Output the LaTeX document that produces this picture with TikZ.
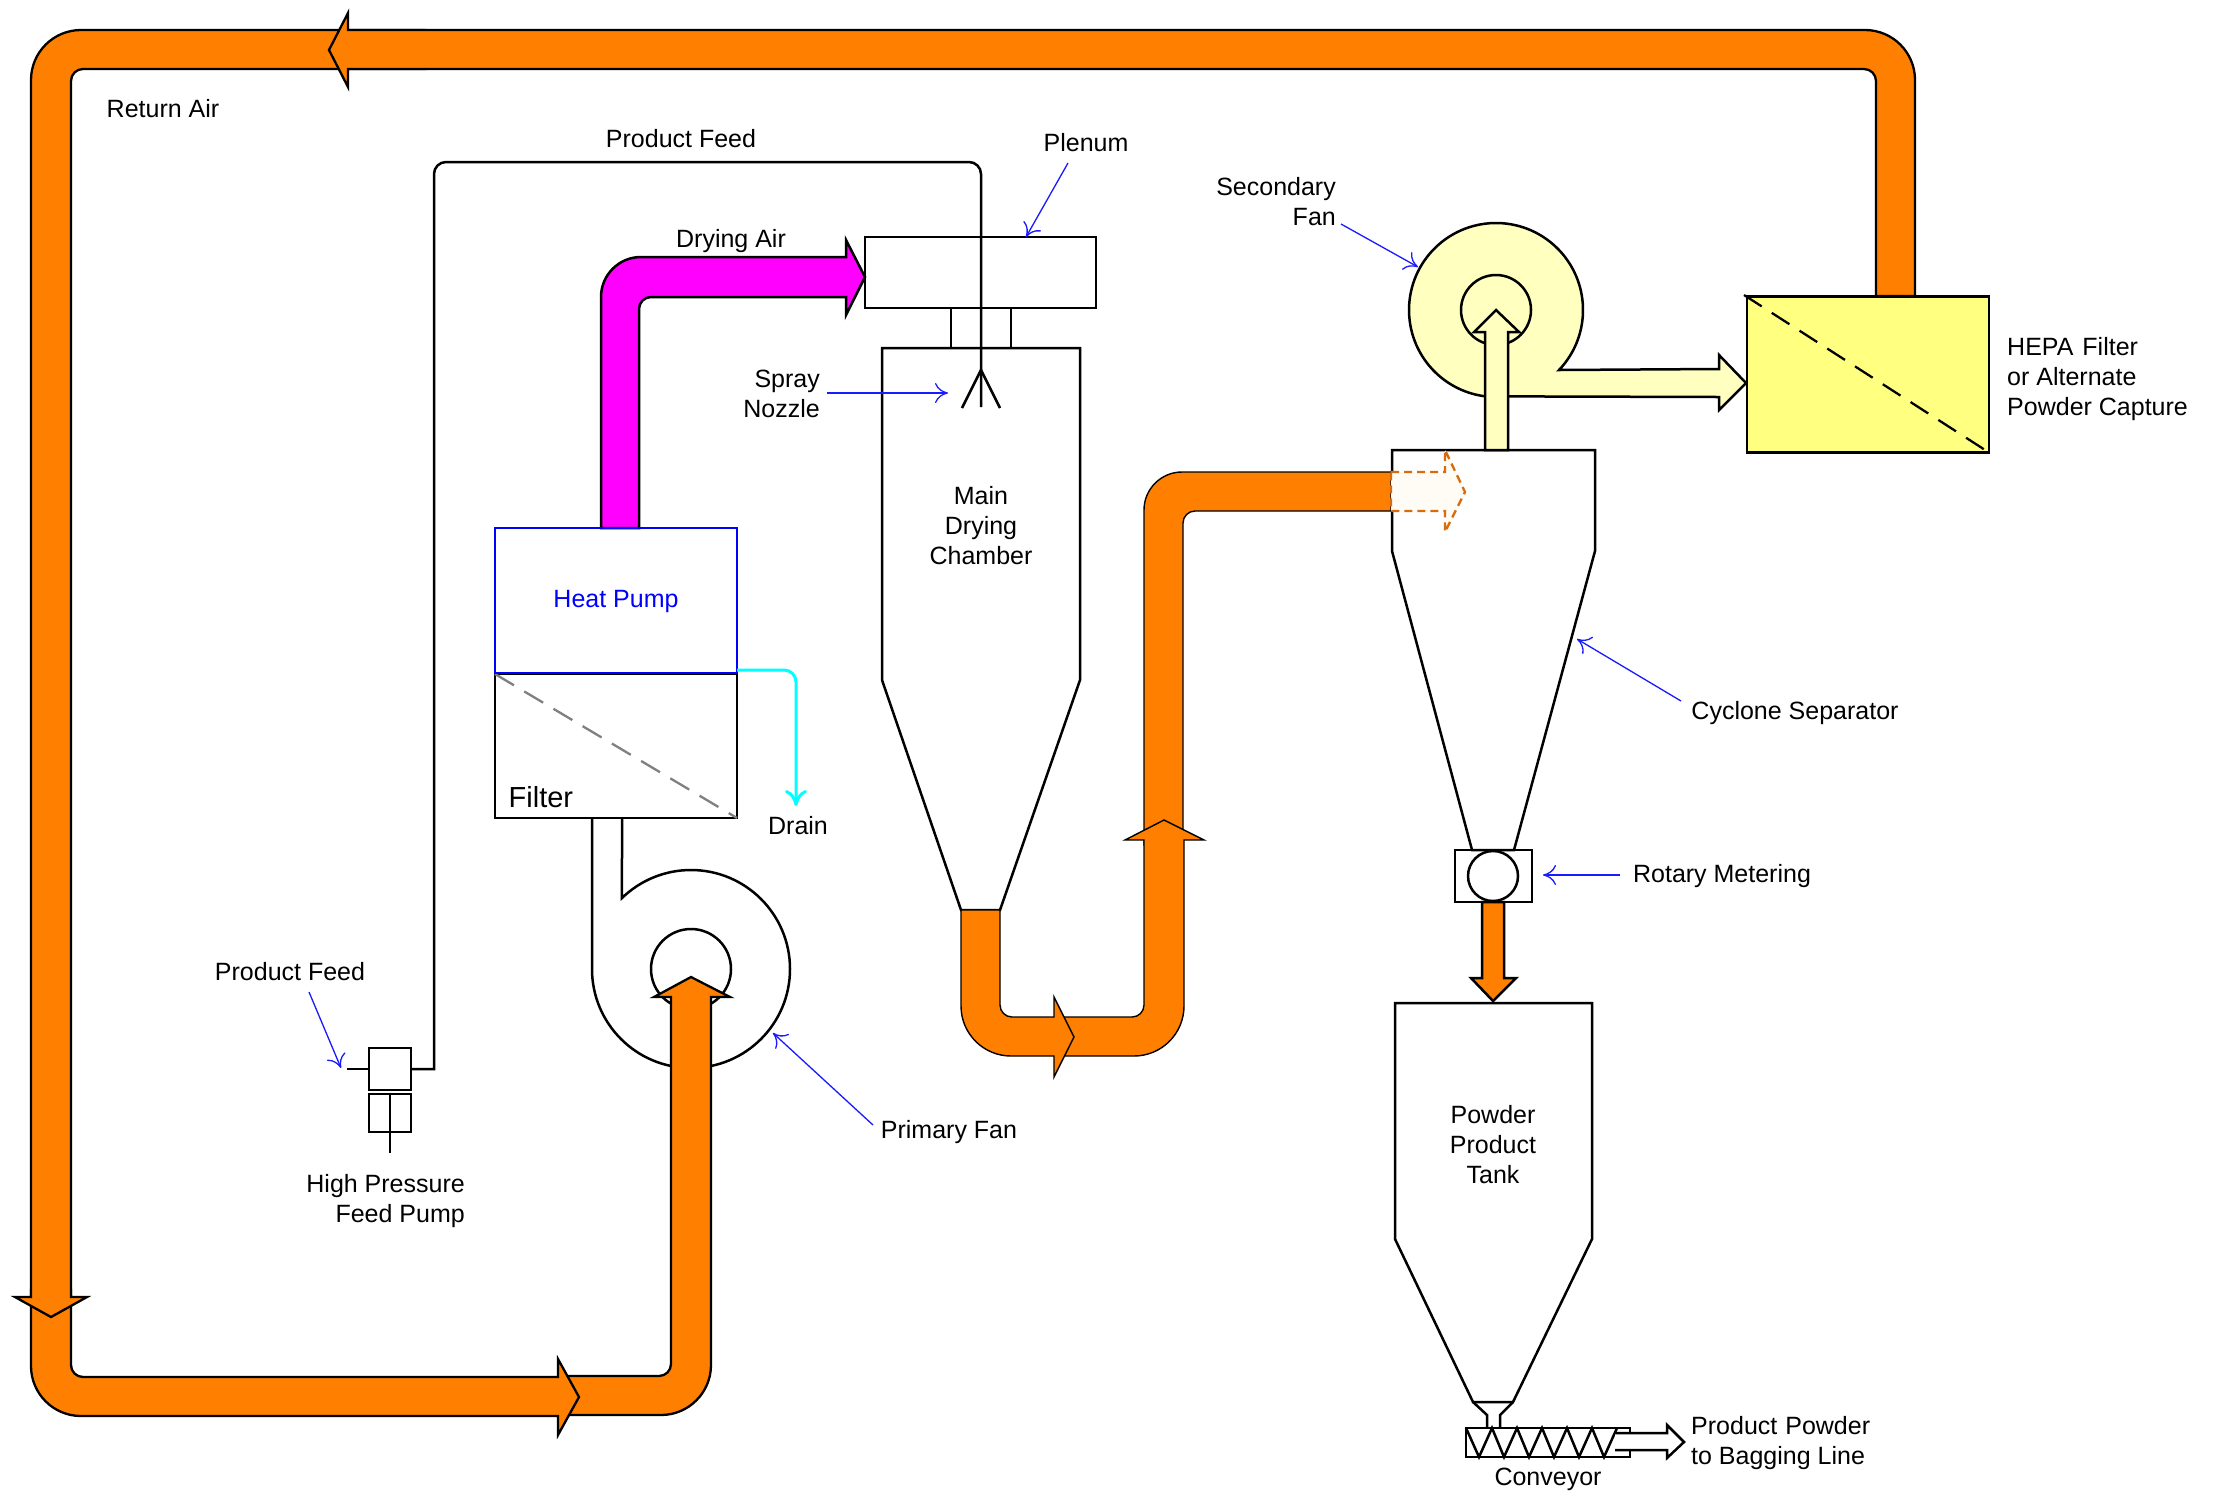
\documentclass[tikz,border=0pt]{standalone}
\usepackage{fontspec}
\setmainfont{Liberation Sans}
\usetikzlibrary{arrows.meta}
\definecolor{flow}{HTML}{FF8000}
\definecolor{hepa}{HTML}{FFFF80}
\definecolor{fanpale}{HTML}{FFFFC0}
\definecolor{dashor}{HTML}{D96B0C}
\definecolor{ghost}{HTML}{FFFBF5}
\definecolor{dryair}{HTML}{FF00FF}
\definecolor{drainc}{HTML}{00FFFF}
\definecolor{leaderc}{HTML}{1A1AFF}
\definecolor{hpblue}{HTML}{0000FF}
\tikzset{
  lbl/.style={inner sep=0pt,font=\fontsize{25}{30}\selectfont,align=center,yshift=-1pt},
  lblr/.style={inner sep=0pt,font=\fontsize{25}{30}\selectfont,align=right,yshift=-1pt},
  lbll/.style={inner sep=0pt,font=\fontsize{25}{30}\selectfont,align=left,yshift=-1pt},
  ln/.style={line width=2.5pt,line join=miter},
  boxn/.style={draw,line width=2.5pt,inner sep=0pt,outer sep=0pt,rectangle},
  ribbon/.style={draw,fill=flow,line width=2.3pt,line join=miter},
  thinribbon/.style={draw,fill=flow,line width=1.4pt,line join=miter},
  thick arrow/.style={draw,line width=2.5pt,line join=miter},
  leader/.style={draw=leaderc,line width=1.3pt,-{Computer Modern Rightarrow[length=13pt,width=20pt]}},
}
\begin{document}
\begin{tikzpicture}[x=1pt,y=-1pt]
\useasboundingbox[fill=white] (0,0) rectangle (2221,1492);

% primary fan
\path[draw,ln] (592,818) -- (592,969) arc[start angle=180,end angle=494.2,radius=99pt] -- (622,818);
\node[circle,draw,line width=2.5pt,minimum size=80pt,inner sep=0pt,outer sep=0pt] (pfaneye) at (691,969) {};

% return loop, last segment first so that each arrowhead lies over what follows it
\draw[ribbon] (565,1376) -- (659,1376) arc[start angle=270,end angle=360,radius=12pt] -- (671,997) -- (654,997) -- (691,977) -- (730,997) -- (711,997) -- (711,1365) arc[start angle=0,end angle=-90,radius=50pt] -- (565,1415) -- cycle;
\draw[ribbon] (31,1290) -- (31,1366) arc[start angle=180,end angle=270,radius=50pt] -- (558,1416) -- (558,1435) -- (579,1397) -- (558,1359) -- (558,1377) -- (83,1377) arc[start angle=270,end angle=180,radius=12pt] -- (71,1290) -- cycle;
\draw[ribbon] (425,30) -- (81,30) arc[start angle=90,end angle=180,radius=50pt] -- (31,1297) -- (15,1297) -- (51,1317) -- (87,1297) -- (71,1297) -- (71,81) arc[start angle=180,end angle=90,radius=12pt] -- (425,69) -- cycle;
\draw[ribbon] (1915,296) -- (1915,80) arc[start angle=0,end angle=90,radius=50pt] -- (348,30) -- (348,13) -- (329,50) -- (348,87) -- (348,69) -- (1864,69) arc[start angle=90,end angle=0,radius=12pt] -- (1876,296) -- cycle;

% drying air
\draw[thick arrow,fill=dryair] (601,528) -- (601,297) arc[start angle=180,end angle=90,radius=40pt] -- (846,257) -- (846,240) -- (865,277) -- (846,315) -- (846,297) -- (651,297) arc[start angle=90,end angle=180,radius=12pt] -- (639,528) -- cycle;

% filter and heat pump
\node[boxn,minimum width=242pt,minimum height=144pt] (filter) at (616,746) {};
\draw[gray,line width=2.3pt,dash pattern=on 22pt off 12pt] (filter.north west) -- (filter.south east);
\node[boxn,draw=hpblue,minimum width=242pt,minimum height=145pt] (hp) at (616,600.5) {};
\node[lbl,text=hpblue] (hplbl) at (hp) {Heat Pump};
\node[anchor=base west,inner sep=0pt,font=\fontsize{29}{30}\selectfont] (filterlbl) at (508.5,807) {Filter};
\coordinate (drainin) at (737,670);
\coordinate (drainout) at (796,806);
\draw[drainc,line width=3pt,-{Computer Modern Rightarrow[length=16pt,width=22pt]}] (drainin) -- (784,670) arc[start angle=90,end angle=0,radius=12pt] -- (drainout);
\node[lbl] (drain) at (798,825) {Drain};

% plenum, neck, main chamber
\node[boxn,minimum width=231pt,minimum height=71pt] (plenum) at (980.5,272.5) {};
\node[boxn,minimum width=60pt,minimum height=40pt] (neck) at (981,328) {};
\draw[ln] (882,348) -- (882,680) -- (961,910) -- (1000,910) -- (1080,680) -- (1080,348) -- cycle;
\coordinate (nozzle) at (981,407);
\coordinate (nozapex) at (981,370);
\draw[ln] (962,408) -- (nozapex) -- (1000,408);

% pump and product feed
\node[boxn,minimum width=42pt,minimum height=42pt] (pumpA) at (390,1069) {};
\node[boxn,minimum width=42pt,minimum height=38pt] (pumpB) at (390,1113) {};
\coordinate (pumpin) at (347,1069);
\coordinate (rodend) at (390,1153);
\draw[ln] (pumpin) -- (pumpA.west);
\draw[ln] (pumpB.north) -- (rodend);
\draw[ln] (pumpA.east) -- (434,1069) -- (434,174) arc[start angle=180,end angle=90,radius=12pt] -- (969,162) arc[start angle=90,end angle=0,radius=12pt] -- (nozzle);

% second orange line
\draw[thinribbon] (1144,845) -- (1144,510) arc[start angle=180,end angle=90,radius=38pt] -- (1391,472) -- (1391,511) -- (1195,511) arc[start angle=90,end angle=180,radius=12pt] -- (1183,845) -- cycle;
\draw[thinribbon] (1060,1017) -- (1132,1017) arc[start angle=270,end angle=360,radius=12pt] -- (1144,840) -- (1125,840) -- (1164,820) -- (1204,840) -- (1184,840) -- (1184,1006) arc[start angle=0,end angle=-90,radius=50pt] -- (1060,1056) -- cycle;
\draw[thinribbon] (961,910) -- (961,1006) arc[start angle=180,end angle=270,radius=50pt] -- (1054,1056) -- (1054,1077) -- (1074,1037) -- (1054,997) -- (1054,1017) -- (1012,1017) arc[start angle=270,end angle=180,radius=12pt] -- (1000,910) -- cycle;

% cyclone
\draw[ln] (1392,450) -- (1392,551) -- (1472,850) -- (1514,850) -- (1595,551) -- (1595,450) -- cycle;
\draw[draw=dashor,fill=ghost,line width=2.3pt,dash pattern=on 8pt off 5pt] (1391,472) -- (1445,472) -- (1445,450) -- (1465,492) -- (1445,532) -- (1445,511) -- (1391,511) -- cycle;

% secondary fan
\draw[thick arrow,fill=fanpale] (1559,370) arc[start angle=-43.6,end angle=262.8,radius=87pt] -- (1719,397) -- (1719,410) -- (1746,383) -- (1719,355) -- (1719,369) -- cycle;
\node[circle,draw,fill=fanpale,line width=2.5pt,minimum size=70pt,inner sep=0pt,outer sep=0pt] (sfaneye) at (1496,310) {};
\draw[thick arrow,fill=fanpale] (1485,450) -- (1485,332) -- (1474,332) -- (1496,310) -- (1519,332) -- (1508,332) -- (1508,450) -- cycle;

% HEPA
\node[boxn,fill=hepa,minimum width=242pt,minimum height=156pt] (hepabox) at (1868,374.5) {};
\coordinate (hepadiag) at (1744,295);
\draw[line width=2.3pt,dash pattern=on 21pt off 12pt] (hepadiag) -- (hepabox.south east);

% rotary metering, tank, conveyor
\draw[thick arrow,fill=flow] (1482,902) -- (1482,978) -- (1471,978) -- (1493,1001) -- (1516,978) -- (1504,978) -- (1504,902) -- cycle;
\node[boxn,minimum width=77pt,minimum height=52pt] (rotary) at (1493.5,876) {};
\node[circle,draw,line width=2.5pt,minimum size=50pt,inner sep=0pt,outer sep=0pt] (rotor) at (1493,876) {};
\draw[ln] (1395,1003) -- (1395,1239) -- (1473,1402) -- (1513,1402) -- (1592,1239) -- (1592,1003) -- cycle;
\draw[ln] (1473,1402) -- (1487,1415) -- (1487,1428);
\draw[ln] (1513,1402) -- (1500,1415) -- (1500,1428);
\node[boxn,minimum width=164pt,minimum height=29pt] (conveyor) at (1548,1442.5) {};
\draw[ln] (1466,1428) -- (1479,1457) -- (1492,1428) -- (1504,1457) -- (1517,1428) -- (1529,1457) -- (1542,1428) -- (1554,1457) -- (1567,1428) -- (1579,1457) -- (1592,1428) -- (1604,1457) -- (1617,1428);
\fill[white] (1615,1433) -- (1667,1433) -- (1667,1425) -- (1684,1442) -- (1667,1458) -- (1667,1450) -- (1615,1450) -- cycle;
\draw[ln] (1615,1433) -- (1667,1433) -- (1667,1425) -- (1684,1442) -- (1667,1458) -- (1667,1450) -- (1615,1450);

% labels
\node[lbl] (l1) at (163,108) {Return Air};
\node[lbl] (l2) at (681,138) {Product Feed};
\node[lbl] (l3) at (1086,142) {Plenum};
\node[lblr,anchor=east] (l4) at (1336,201) {Secondary\\Fan};
\node[lbl] (l5) at (731,240.5) {Drying Air};
\node[lblr,anchor=east] (l6) at (820,393) {Spray\\Nozzle};
\node[lbll,anchor=west] (l7) at (2007,378) {HEPA\hspace{9pt}Filter\\or Alternate\\Powder Capture};
\node[lbl] (l8) at (981,525) {Main\\Drying\\Chamber};
\node[lbl] (l9) at (1795,712) {Cyclone Separator};
\node[lbl] (l10) at (1722,875) {Rotary Metering};
\node[lbl] (l11) at (290,971) {Product Feed};
\node[lblr,anchor=east] (l12) at (465,1200) {High Pressure\\Feed Pump};
\node[lbl] (l13) at (949,1131) {Primary Fan};
\node[lbl] (l14) at (1493,1144) {Powder\\Product\\Tank};
\node[lbll,anchor=west] (l15) at (1691,1442) {Product\hspace{8pt}Powder\\to Bagging Line};
\node[lbl] (l16) at (1548,1478) {Conveyor};

% leaders
\coordinate (pa) at (1068,163); \coordinate (pb) at (1026,237);
\coordinate (sa) at (1341,224); \coordinate (sb) at (1418,267);
\coordinate (na) at (827,393);  \coordinate (nb) at (948,393);
\coordinate (ca) at (1681,701); \coordinate (cb) at (1577,639);
\coordinate (ra) at (1620,875); \coordinate (rb) at (1543,875);
\coordinate (fa) at (309,992);  \coordinate (fb) at (341,1068);
\coordinate (ma) at (873,1125); \coordinate (mb) at (773,1033);
\draw[leader] (pa) -- (pb);
\draw[leader] (sa) -- (sb);
\draw[leader] (na) -- (nb);
\draw[leader] (ca) -- (cb);
\draw[leader] (ra) -- (rb);
\draw[leader] (fa) -- (fb);
\draw[leader] (ma) -- (mb);
\end{tikzpicture}
\end{document}
